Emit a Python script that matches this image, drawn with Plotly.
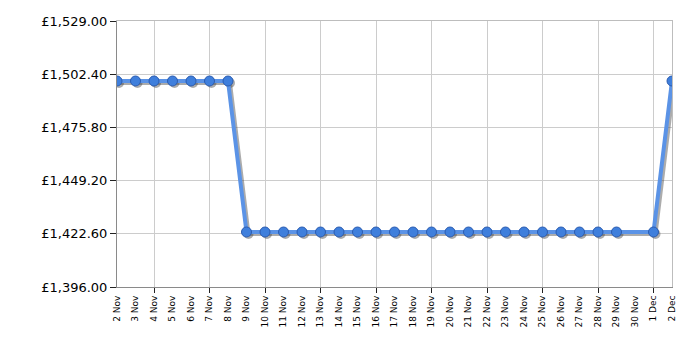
import plotly.graph_objects as go

days = ["2 Nov", "3 Nov", "4 Nov", "5 Nov", "6 Nov", "7 Nov", "8 Nov", "9 Nov",
        "10 Nov", "11 Nov", "12 Nov", "13 Nov", "14 Nov", "15 Nov", "16 Nov",
        "17 Nov", "18 Nov", "19 Nov", "20 Nov", "21 Nov", "22 Nov", "23 Nov",
        "24 Nov", "25 Nov", "26 Nov", "27 Nov", "28 Nov", "29 Nov", "30 Nov",
        "1 Dec", "2 Dec"]
prices = [1499.0] * 7 + [1423.5] * 21 + [None] + [1423.5, 1499.0]
y_ticks = [1396.0, 1422.6, 1449.2, 1475.8, 1502.4, 1529.0]

x_idx = list(range(len(days)))
pts = [(x, p) for x, p in zip(x_idx, prices) if p is not None]
xs = [a for a, _ in pts]
ys = [b for _, b in pts]

L, R, T, B = 116.5, 28, 21, 63
W, H = 700, 350
pw = W - L - R
ph = H - T - B
xr = [0, len(days) - 1]
yr = [y_ticks[0], y_ticks[-1]]
dx = 2 * (xr[1] - xr[0]) / pw
dy = 2 * (yr[1] - yr[0]) / ph

fig = go.Figure()
# invisible anchor trace so the base axes (ticks, grid) are drawn
fig.add_trace(go.Scatter(
    x=xs, y=ys, mode="lines", line=dict(color="rgba(0,0,0,0)", width=0),
    hoverinfo="skip", showlegend=False))
# shadow
fig.add_trace(go.Scatter(
    x=xs, y=ys, xaxis="x2", yaxis="y2", mode="lines+markers",
    line=dict(color="rgba(70,70,70,0.45)", width=4),
    marker=dict(size=10, color="rgba(70,70,70,0.45)", line=dict(width=0)),
    hoverinfo="skip", showlegend=False))
# main series
fig.add_trace(go.Scatter(
    x=xs, y=ys, xaxis="x3", yaxis="y3", mode="lines+markers",
    line=dict(color="#5b93e6", width=4),
    marker=dict(size=10, color="#3f7fdc", line=dict(color="#2b5cb0", width=1)),
    showlegend=False))

font = "DejaVu Sans, Verdana, sans-serif"
hidden = dict(showticklabels=False, showgrid=False, zeroline=False,
              showline=False, ticks="")
fig.update_layout(
    width=W, height=H,
    margin=dict(l=L, r=R, t=T, b=B, pad=0),
    paper_bgcolor="white", plot_bgcolor="white",
    font=dict(family=font, color="black"),
    xaxis=dict(
        range=xr, tickmode="array", tickvals=x_idx, ticktext=days,
        tickangle=-90, tickfont=dict(size=9, family=font),
        ticks="", showgrid=False, zeroline=False,
        showline=True, linecolor="#8a8a8a", linewidth=1,
        ticklabelstandoff=4,
        minor=dict(tick0=2, dtick=3, ticks="outside", ticklen=5,
                   tickcolor="#222", showgrid=True, gridcolor="#cccccc",
                   gridwidth=1),
    ),
    yaxis=dict(
        range=yr, tickmode="array", tickvals=y_ticks,
        ticktext=["£{:,.2f}".format(v) for v in y_ticks],
        tickfont=dict(size=13, family=font),
        ticks="outside", ticklen=6, tickcolor="#222",
        showgrid=True, gridcolor="#cccccc", gridwidth=1, zeroline=False,
        showline=True, linecolor="#8a8a8a", linewidth=1,
    ),
    xaxis2=dict(range=[xr[0] - dx, xr[1] - dx], overlaying="x", side="top",
                showticklabels=False, showgrid=False, zeroline=False,
                showline=True, linecolor="#bdbdbd", ticks=""),
    yaxis2=dict(range=[yr[0] + dy, yr[1] + dy], overlaying="y", side="right",
                showticklabels=False, showgrid=False, zeroline=False,
                showline=True, linecolor="#bdbdbd", ticks=""),
    xaxis3=dict(range=xr, overlaying="x", **hidden),
    yaxis3=dict(range=yr, overlaying="y", **hidden),
)
fig.write_html("out.html")
